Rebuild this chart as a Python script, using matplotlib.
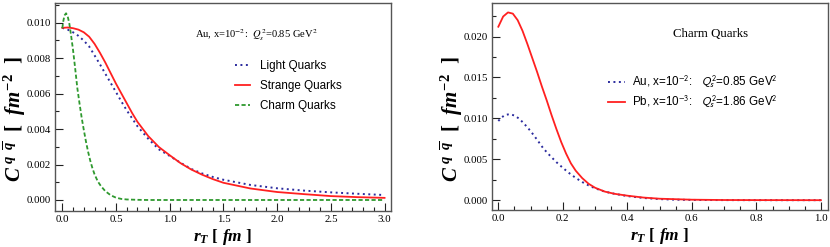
import numpy as np
import matplotlib
matplotlib.use("Agg")
import matplotlib.pyplot as plt
from matplotlib.ticker import MultipleLocator, FormatStrFormatter

plt.rcParams['mathtext.fontset'] = 'custom'
plt.rcParams['mathtext.it'] = 'Liberation Serif:italic:bold'
plt.rcParams['mathtext.rm'] = 'Liberation Serif:bold'
plt.rcParams['mathtext.bf'] = 'Liberation Serif:bold'

# ---------------- data ----------------
light_r = [0.0, 0.05, 0.1, 0.15, 0.2, 0.25, 0.3, 0.35, 0.4, 0.45, 0.5, 0.55, 0.6, 0.7, 0.8, 0.9,
           1.0, 1.1, 1.2, 1.3, 1.4, 1.5, 1.75, 2.0, 2.25, 2.5, 2.75, 3.0]
light_c = [0.00970, 0.00960, 0.00945, 0.00925, 0.00898, 0.00865, 0.00815, 0.00765, 0.00712,
           0.00660, 0.00608, 0.00555, 0.00505, 0.00415, 0.00345, 0.00285, 0.00248, 0.00210,
           0.00175, 0.00150, 0.00130, 0.00114, 0.00085, 0.00066, 0.00053, 0.00043, 0.00035,
           0.00028]

strange_r = [0.0, 0.05, 0.1, 0.15, 0.2, 0.25, 0.3, 0.35, 0.4, 0.45, 0.5, 0.55, 0.6, 0.65, 0.7,
             0.8, 0.9, 1.0, 1.1, 1.2, 1.3, 1.4, 1.5, 1.75, 2.0, 2.25, 2.5, 2.75, 3.0]
strange_c = [0.00970, 0.00972, 0.00968, 0.00960, 0.00945, 0.00920, 0.00880, 0.00830, 0.00775,
             0.00715, 0.00655, 0.00600, 0.00545, 0.00490, 0.00440, 0.00360, 0.00298, 0.00252,
             0.00208, 0.00172, 0.00143, 0.00118, 0.00097, 0.00065, 0.00045, 0.00033, 0.00022,
             0.00016, 0.00012]

# charm quarks, Au x=1e-2 (same curve in both panels)
charm_r = [0.0, 0.01, 0.02, 0.035, 0.05, 0.065, 0.08, 0.1, 0.12, 0.14, 0.16, 0.18, 0.2, 0.22,
           0.24, 0.26, 0.28, 0.3, 0.33, 0.36, 0.4, 0.45, 0.5, 0.55, 0.6, 0.7, 0.8, 1.0, 1.5,
           2.0, 2.5, 3.0]
charm_c = [0.00968, 0.01010, 0.01040, 0.01052, 0.01035, 0.00995, 0.00935, 0.00845, 0.00740,
           0.00630, 0.00545, 0.00465, 0.00395, 0.00330, 0.00272, 0.00222, 0.00180, 0.00145,
           0.00105, 0.00078, 0.00050, 0.00027, 0.00013, 0.00006, 0.00003, 0.00001, 0.0, 0.0,
           0.0, 0.0, 0.0, 0.0]

# charm quarks, Pb x=1e-3
pb_r = [0.0, 0.015, 0.03, 0.045, 0.06, 0.075, 0.09, 0.105, 0.12, 0.135, 0.15, 0.165, 0.18,
        0.195, 0.21, 0.225, 0.24, 0.26, 0.28, 0.3, 0.33, 0.36, 0.4, 0.45, 0.5, 0.6, 0.7, 0.8,
        1.0]
pb_c = [0.0212, 0.02245, 0.02295, 0.0228, 0.0220, 0.0207, 0.0191, 0.0174, 0.0157, 0.0139,
        0.0122, 0.0104, 0.0087, 0.0071, 0.0057, 0.0045, 0.0036, 0.0027, 0.0020, 0.00152,
        0.00105, 0.00078, 0.00055, 0.00032, 0.00018, 0.00006, 0.00002, 0.00001, 0.0]

left_labels = ["Light Quarks", "Strange Quarks", "Charm Quarks"]
right_labels = [r"Au, x=10$^{-2}$:   $Q_s^2$=0.85 GeV$^2$",
                r"Pb, x=10$^{-3}$:   $Q_s^2$=1.86 GeV$^2$"]

BLUE = '#2b2b9e'
RED = '#ff2020'
GREEN = '#2e992e'
DOT = (0, (1.0, 1.8))
DASH = (0, (2.3, 1.3))

fig = plt.figure(figsize=(8.3, 2.47), dpi=100)
axL = fig.add_axes([55/830, 1-211/247, 336/830, 208/247])
axR = fig.add_axes([492/830, 1-210/247, 336/830, 207/247])

# left panel
axL.plot(light_r, light_c, color=BLUE, lw=1.4, linestyle=DOT, label=left_labels[0])
axL.plot(strange_r, strange_c, color=RED, lw=1.3, label=left_labels[1])
axL.plot(charm_r, charm_c, color=GREEN, lw=1.3, linestyle=DASH, label=left_labels[2])
axL.set_xlim(-0.068, 3.06)
axL.set_ylim(-0.00062, 0.0111)
axL.xaxis.set_major_locator(MultipleLocator(0.5))
axL.xaxis.set_minor_locator(MultipleLocator(0.1))
axL.yaxis.set_major_locator(MultipleLocator(0.002))
axL.yaxis.set_minor_locator(MultipleLocator(0.001))
axL.xaxis.set_major_formatter(FormatStrFormatter('%.1f'))
axL.yaxis.set_major_formatter(FormatStrFormatter('%.3f'))
axL.text(0.598, 0.846, r"Au, x=10$^{-2}$:  $Q_s^2$=0.85 GeV$^2$", transform=axL.transAxes,
         ha='center', va='center', fontsize=7.6, family='Liberation Serif',
         math_fontfamily='stix')
legL = axL.legend(loc='upper left', bbox_to_anchor=(0.536, 0.725), frameon=False,
                  prop={'family': 'Liberation Sans', 'size': 8.4},
                  handlelength=1.3, handletextpad=0.85, labelspacing=0.68,
                  borderpad=0, borderaxespad=0)

# right panel
rr = np.array(charm_r)
cc = np.array(charm_c)
m = rr <= 1.0
axR.plot(rr[m], cc[m], color=BLUE, lw=1.4, linestyle=DOT, label=right_labels[0])
axR.plot(pb_r, pb_c, color=RED, lw=1.3, label=right_labels[1])
axR.set_xlim(-0.0196, 1.022)
axR.set_ylim(-0.0012, 0.0241)
axR.xaxis.set_major_locator(MultipleLocator(0.2))
axR.xaxis.set_minor_locator(MultipleLocator(0.05))
axR.yaxis.set_major_locator(MultipleLocator(0.005))
axR.yaxis.set_minor_locator(MultipleLocator(0.0025))
axR.xaxis.set_major_formatter(FormatStrFormatter('%.1f'))
axR.yaxis.set_major_formatter(FormatStrFormatter('%.3f'))
axR.text(0.649, 0.85, "Charm Quarks", transform=axR.transAxes, ha='center', va='center',
         fontsize=9.3, family='Liberation Serif')
legR = axR.legend(loc='upper left', bbox_to_anchor=(0.345, 0.66), frameon=False,
                  prop={'family': 'Liberation Sans', 'size': 8.4},
                  handlelength=1.45, handletextpad=0.6, labelspacing=0.3,
                  borderpad=0, borderaxespad=0)
for t in legR.get_texts():
    t.set_math_fontfamily('stixsans')

for ax in (axL, axR):
    for s in ax.spines.values():
        s.set_color('#555555')
        s.set_linewidth(1.0)
    ax.tick_params(which='both', direction='in', top=False, right=False, color='#222222',
                   width=0.8, labelsize=7.8)
    ax.tick_params(which='major', length=5.5, pad=3)
    ax.tick_params(which='minor', length=3)
    for lab in ax.get_xticklabels() + ax.get_yticklabels():
        lab.set_family('Liberation Serif')
    ax.set_xlabel(r"$r_T$ [ $fm$ ]", fontsize=12.5, fontweight='bold',
                  family='Liberation Serif', labelpad=2)
    ax.set_ylabel(r"$C^{\;q\;\;\overline{q}}$  [  $fm^{-2}$  ]", fontsize=15,
                  fontweight='bold', family='Liberation Serif')
    ax.yaxis.set_label_coords(-0.08, 0.44)

fig.savefig("out.png", dpi=100)
